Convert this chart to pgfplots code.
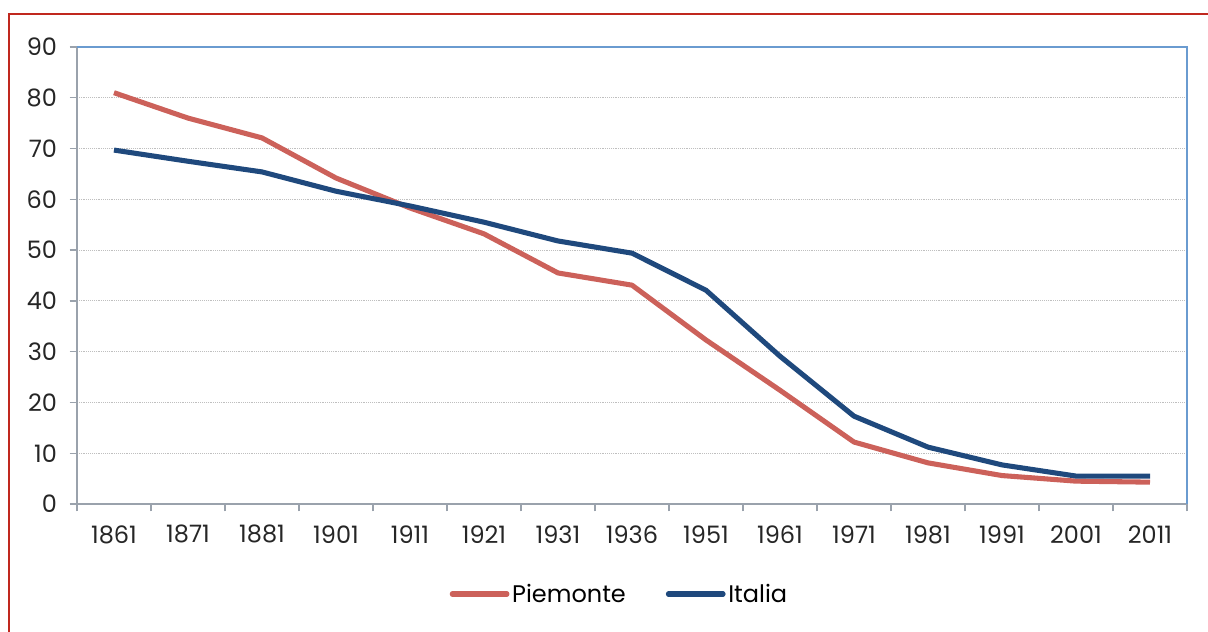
\documentclass[border=0pt]{standalone}
\usepackage{pgfplots}
\pgfplotsset{compat=1.18}
\usepackage{fontspec}
\setmainfont{Poppins}
\definecolor{piem}{HTML}{CC615A}
\definecolor{ital}{HTML}{1F497D}
\definecolor{frame}{HTML}{C0281E}
\definecolor{axblue}{HTML}{6A9BD0}
\definecolor{axgrey}{HTML}{9AA2AC}
\begin{document}
\begin{tikzpicture}[x=0.75pt,y=0.75pt]
\path[use as bounding box] (0,0) rectangle (1208,632);
\clip (0,0) rectangle (1208,632);
\draw[frame, line width=0.9pt] (9,618) rectangle (1250,-20);
\begin{axis}[
  at={(77pt*0.75,128pt*0.75)}, anchor=south west,
  scale only axis, width=832.5pt, height=342.75pt,
  xmin=-0.5, xmax=14.5, ymin=0, ymax=90,
  axis x line*=bottom, axis y line*=left,
  axis line style={axgrey, line width=1pt, -},
  xtick={0,...,14},
  xticklabels={1861,1871,1881,1901,1911,1921,1931,1936,1951,1961,1971,1981,1991,2001,2011},
  major x tick style={draw=none},
  minor xtick={-0.5,0.5,...,14.5},
  minor x tick style={axgrey, line width=1pt},
  minor tick length=5.5pt,
  ytick={0,10,...,90},
  y tick style={axgrey, line width=1pt},
  major tick length=5.5pt,
  tick align=outside,
  ymajorgrids,
  y grid style={densely dotted, black!25, line width=0.8pt},
  tick label style={font=\fontsize{18}{20}\selectfont, text=black!85},
  yticklabel style={xshift=-6pt},
  xticklabel style={yshift=-7pt},
  /pgf/number format/assume math mode=true,
  legend style={at={(0.489,-0.197)}, anchor=center, draw=none, fill=none,
    legend columns=2, font=\fontsize{18}{20}\selectfont,
    /tikz/every even column/.append style={column sep=28pt}},
  legend cell align=left,
  legend image code/.code={\draw[#1, line cap=round] (0pt,0pt) -- (41pt,0pt);},
  clip=false,
]
\draw[axblue, line width=1.2pt] (rel axis cs:0,1) -- (rel axis cs:1,1) -- (rel axis cs:1,0);
\addplot[piem, line width=3.8pt, line join=round] coordinates {
(0,81.0) (1,76.0) (2,72.1) (3,64.2) (4,58.3) (5,53.2) (6,45.5) (7,43.1)
(8,32.3) (9,22.4) (10,12.2) (11,8.1) (12,5.6) (13,4.5) (14,4.3)};
\addlegendentry{Piemonte}
\addplot[ital, line width=3.8pt, line join=round] coordinates {
(0,69.7) (1,67.5) (2,65.4) (3,61.6) (4,58.7) (5,55.5) (6,51.8) (7,49.4)
(8,42.1) (9,29.1) (10,17.3) (11,11.2) (12,7.7) (13,5.5) (14,5.5)};
\addlegendentry{Italia}
\end{axis}
\end{tikzpicture}
\end{document}
